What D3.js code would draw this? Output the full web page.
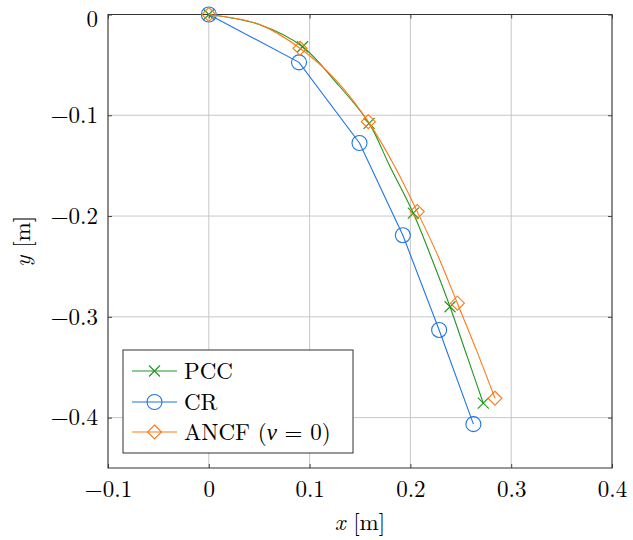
<!DOCTYPE html>
<html>
<head>
<meta charset="utf-8">
<script src="https://cdn.jsdelivr.net/npm/d3@7"></script>
<style>
  html, body { margin: 0; padding: 0; background: #fff; }
  svg { display: block; }
  text { font-family: "Latin Modern Roman", "Liberation Serif", "DejaVu Serif", serif; fill: #000; }
</style>
</head>
<body>
<script>
// ---- data (x, y in metres); markers sit on even indices of the curve arrays ----
const pccX  = [0, 0.050, 0.093, 0.126, 0.159, 0.179, 0.2029, 0.2217, 0.2393, 0.2558, 0.2723];
const pccY  = [0, -0.0100, -0.032, -0.067, -0.108, -0.1493, -0.1972, -0.2436, -0.290, -0.3378, -0.3857];
const crX   = [0, 0.0895, 0.1495, 0.1925, 0.2285, 0.2625];
const crY   = [0, -0.0475, -0.1275, -0.2190, -0.3130, -0.4065];
const ancfX = [0, 0.050, 0.0905, 0.127, 0.1582, 0.1842, 0.2068, 0.2277, 0.2466, 0.2657, 0.2839];
const ancfY = [0, -0.0098, -0.0335, -0.066, -0.1063, -0.1503, -0.1956, -0.2403, -0.2865, -0.3335, -0.3808];
const xTicks = [-0.1, 0, 0.1, 0.2, 0.3, 0.4];
const yTicks = [0, -0.1, -0.2, -0.3, -0.4];
const seriesNames = ["PCC", "CR", "ANCF"];
const colors = {PCC: "#1f961f", CR: "#1f75e6", ANCF: "#ff7a14"};

const W = 633, H = 540;
const L = 108, R = 612, T = 14.5, B = 468;

const svg = d3.select("body").append("svg").attr("width", W).attr("height", H);

const x = d3.scaleLinear().domain([-0.1, 0.4]).range([L, R]);
const y = d3.scaleLinear().domain([-0.45, 0]).range([B, T]);

const fmt = v => (v < 0 ? "\u2212" : "") + (Math.abs(v) < 1e-9 ? "0" : d3.format(".1f")(Math.abs(v)));

// grid
const grid = svg.append("g").attr("stroke", "#c8c8c8").attr("stroke-width", 1);
xTicks.forEach(t => grid.append("line").attr("x1", x(t)).attr("x2", x(t)).attr("y1", T).attr("y2", B));
yTicks.forEach(t => grid.append("line").attr("y1", y(t)).attr("y2", y(t)).attr("x1", L).attr("x2", R));

// axes via d3 axis (ticks inside)
const fs = 23;
const gx = svg.append("g").attr("transform", `translate(0,${B})`)
  .call(d3.axisBottom(x).tickValues(xTicks).tickFormat(fmt).tickSizeInner(-4).tickSizeOuter(0).tickPadding(9));
const gxTop = svg.append("g").attr("transform", `translate(0,${T})`)
  .call(d3.axisTop(x).tickValues(xTicks).tickFormat("").tickSizeInner(-4).tickSizeOuter(0));
const gy = svg.append("g").attr("transform", `translate(${L},0)`)
  .call(d3.axisLeft(y).tickValues(yTicks).tickFormat(fmt).tickSizeInner(-4).tickSizeOuter(0).tickPadding(10));
const gyR = svg.append("g").attr("transform", `translate(${R},0)`)
  .call(d3.axisRight(y).tickValues(yTicks).tickFormat("").tickSizeInner(-4).tickSizeOuter(0));
[gx, gxTop, gy, gyR].forEach(g => {
  g.select(".domain").remove();
  g.selectAll("line").attr("stroke", "#444");
  g.selectAll("text").style("font-size", fs + "px").attr("fill", "#000")
    .style("font-family", '"Latin Modern Roman","Liberation Serif","DejaVu Serif",serif');
});
gx.selectAll("text").attr("dy", "0.85em");
// keep the top "0" label inside the picture
gy.selectAll("text").filter(d => d === 0).attr("dy", "0.5em");

// frame
svg.append("rect").attr("x", L).attr("y", T).attr("width", R - L).attr("height", B - T)
  .attr("fill", "none").attr("stroke", "#333").attr("stroke-width", 1);

// marker drawers
function drawMarker(g, type, cx, cy, col) {
  if (type === "PCC") {
    const s = 5.5;
    g.append("path").attr("d", `M${cx - s},${cy - s}L${cx + s},${cy + s}M${cx - s},${cy + s}L${cx + s},${cy - s}`)
      .attr("stroke", col).attr("stroke-width", 1.1).attr("fill", "none");
  } else if (type === "CR") {
    g.append("circle").attr("cx", cx).attr("cy", cy).attr("r", 7.5)
      .attr("stroke", col).attr("stroke-width", 1.1).attr("fill", "none");
  } else {
    const s = 7;
    g.append("path").attr("d", `M${cx},${cy - s}L${cx + s},${cy}L${cx},${cy + s}L${cx - s},${cy}Z`)
      .attr("stroke", col).attr("stroke-width", 1.1).attr("fill", "none");
  }
}

const series = [
  {name: "PCC", xs: pccX, ys: pccY, curve: d3.curveCatmullRom.alpha(0.5), markEvery: 2},
  {name: "CR", xs: crX, ys: crY, curve: d3.curveLinear, markEvery: 1},
  {name: "ANCF", xs: ancfX, ys: ancfY, curve: d3.curveCatmullRom.alpha(0.5), markEvery: 2}
];

series.forEach(s => {
  const pts = s.xs.map((v, i) => [v, s.ys[i]]);
  const col = colors[s.name];
  const g = svg.append("g");
  g.append("path").datum(pts)
    .attr("d", d3.line().x(d => x(d[0])).y(d => y(d[1])).curve(s.curve))
    .attr("fill", "none").attr("stroke", col).attr("stroke-width", 1.1);
  pts.forEach((p, i) => { if (i % s.markEvery === 0) drawMarker(g, s.name, x(p[0]), y(p[1]), col); });
});

// legend
const lg = svg.append("g");
lg.append("rect").attr("x", 123).attr("y", 350).attr("width", 230).attr("height", 103)
  .attr("fill", "#fff").attr("stroke", "#333").attr("stroke-width", 1);
const legendRows = [371, 402, 432];
series.forEach((s, i) => {
  const yy = legendRows[i], col = colors[s.name];
  lg.append("line").attr("x1", 132).attr("x2", 177).attr("y1", yy).attr("y2", yy).attr("stroke", col).attr("stroke-width", 1.1);
  drawMarker(lg, s.name, 154.5, yy, col);
  const t = lg.append("text").attr("x", 184).attr("y", yy).attr("dy", "0.35em").style("font-size", "23px");
  if (s.name === "ANCF") {
    t.append("tspan").text("ANCF (");
    t.append("tspan").attr("font-style", "italic").text("\u03bd");
    t.append("tspan").text(" = 0)");
  } else {
    t.text(s.name);
  }
});

// axis labels
const xl = svg.append("text").attr("x", (L + R) / 2).attr("y", 530).attr("text-anchor", "middle").style("font-size", fs + "px");
xl.append("tspan").attr("font-style", "italic").text("x");
xl.append("tspan").text(" [m]");
const yl = svg.append("text").attr("transform", `translate(30,${(T + B) / 2}) rotate(-90)`)
  .attr("text-anchor", "middle").style("font-size", fs + "px");
yl.append("tspan").attr("font-style", "italic").text("y");
yl.append("tspan").text(" [m]");
</script>
</body>
</html>
